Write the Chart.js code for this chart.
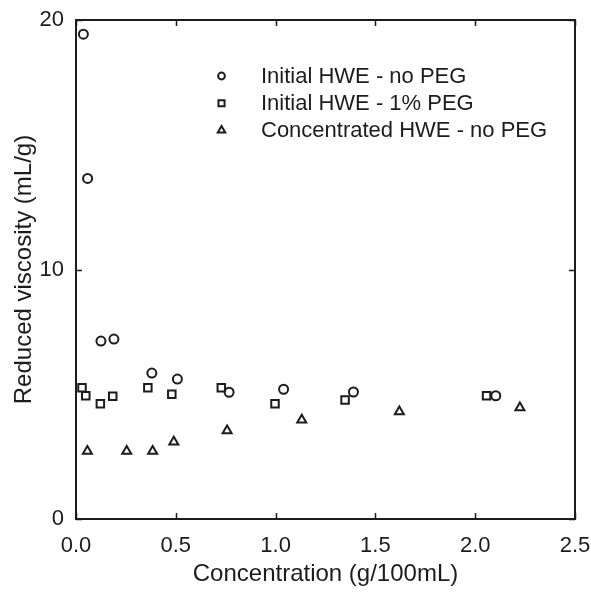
<!DOCTYPE html>
<html>
<head>
<meta charset="utf-8">
<script src="https://cdn.jsdelivr.net/npm/chart.js@4.4.1/dist/chart.umd.min.js"></script>
<style>
html,body{margin:0;padding:0;background:#fff;}
#wrap{width:591px;height:594px;position:relative;}
</style>
</head>
<body>
<div id="wrap"><canvas id="c" width="591" height="594"></canvas></div>
<script>
const seriesNames = ["Initial HWE - no PEG", "Initial HWE - 1% PEG", "Concentrated HWE - no PEG"];
const circleX = [0.037, 0.058, 0.125, 0.19, 0.38, 0.508, 0.767, 1.04, 1.39, 2.103];
const circleY = [19.43, 13.65, 7.13, 7.21, 5.85, 5.61, 5.08, 5.2, 5.09, 4.94];
const squareX = [0.03, 0.049, 0.122, 0.184, 0.36, 0.48, 0.728, 0.997, 1.348, 2.057];
const squareY = [5.26, 4.94, 4.62, 4.92, 5.26, 5.0, 5.26, 4.62, 4.77, 4.94];
const triX = [0.057, 0.254, 0.384, 0.49, 0.757, 1.131, 1.62, 2.224];
const triY = [2.72, 2.72, 2.72, 3.09, 3.54, 3.97, 4.3, 4.46];
const xTicks = [0, 0.5, 1.0, 1.5, 2.0, 2.5];
const yTicks = [0, 10, 20];

const INK = '#1c1c1c';
const FONT = "'Liberation Sans', Arial, sans-serif";

function pts(xs, ys){ return xs.map((x,i)=>({x:x, y:ys[i]})); }

const styles = [
  {pointStyle:'circle', radius:4.5, legendR:3.4},
  {pointStyle:'rect', radius:5.3, legendR:4.3},
  {pointStyle:'triangle', radius:5.2, legendR:4.3}
];
const dataSets = [pts(circleX,circleY), pts(squareX,squareY), pts(triX,triY)];

const frame = {
  id:'frame',
  afterDatasetsDraw(chart){
    const ctx = chart.ctx, a = chart.chartArea;
    const xs = chart.scales.x, ys = chart.scales.y;
    ctx.save();
    ctx.strokeStyle = INK;
    ctx.lineWidth = 2;
    ctx.strokeRect(a.left, a.top, a.right-a.left, a.bottom-a.top);
    const tl = 6;
    ctx.lineWidth = 1.5;
    ctx.beginPath();
    xTicks.forEach(v=>{
      const px = Math.round(xs.getPixelForValue(v))+0.5;
      ctx.moveTo(px, a.bottom); ctx.lineTo(px, a.bottom-tl);
      ctx.moveTo(px, a.top); ctx.lineTo(px, a.top+tl);
    });
    yTicks.forEach(v=>{
      const py = Math.round(ys.getPixelForValue(v))+0.5;
      ctx.moveTo(a.left, py); ctx.lineTo(a.left+tl, py);
      ctx.moveTo(a.right, py); ctx.lineTo(a.right-tl, py);
    });
    ctx.stroke();

    // legend
    const lx = 221.5, tx = 261, ly0 = 76, dy = 27.2;
    ctx.font = "22px " + FONT;
    ctx.textBaseline = 'middle';
    ctx.textAlign = 'left';
    seriesNames.forEach((n,i)=>{
      const y = ly0 + i*dy;
      ctx.lineWidth = 2;
      ctx.strokeStyle = INK;
      ctx.fillStyle = 'rgba(0,0,0,0)';
      Chart.helpers.drawPoint(ctx, {pointStyle: styles[i].pointStyle, radius: styles[i].legendR, borderWidth: 2}, lx, y);
      ctx.fillStyle = INK;
      ctx.fillText(n, tx, y + 1);
    });
    ctx.restore();
  }
};

new Chart(document.getElementById('c'), {
  type:'scatter',
  data:{
    datasets: seriesNames.map((n,i)=>({
      label:n,
      data:dataSets[i],
      pointStyle:styles[i].pointStyle,
      pointRadius:styles[i].radius,
      pointHoverRadius:styles[i].radius,
      pointBorderWidth:2,
      borderColor:INK,
      backgroundColor:'rgba(0,0,0,0)',
      pointBackgroundColor:'rgba(0,0,0,0)',
      showLine:false
    }))
  },
  options:{
    responsive:false,
    animation:false,
    devicePixelRatio:1,
    layout:{padding:{left:0,right:16,top:20,bottom:0}},
    plugins:{legend:{display:false}, tooltip:{enabled:false}},
    scales:{
      x:{
        type:'linear', min:0, max:2.5,
        afterBuildTicks(s){ s.ticks = xTicks.map(v=>({value:v})); },
        afterFit(s){ s.height = 75; s.paddingLeft = 0; s.paddingRight = 0; },
        grid:{display:false, drawTicks:false},
        border:{display:false},
        ticks:{color:INK, font:{family:FONT, size:22}, padding:14, maxRotation:0,
               callback:(v)=>Number(v).toFixed(1)},
        title:{display:true, text:'Concentration (g/100mL)', color:INK,
               font:{family:FONT, size:24}, padding:{top:0,bottom:5}}
      },
      y:{
        type:'linear', min:0, max:20,
        afterBuildTicks(s){ s.ticks = yTicks.map(v=>({value:v})); },
        afterFit(s){ s.width = 76; s.paddingTop = 0; s.paddingBottom = 0; },
        grid:{display:false, drawTicks:false},
        border:{display:false},
        ticks:{color:INK, font:{family:FONT, size:22}, padding:12,
               callback:(v)=>String(v)},
        title:{display:true, text:'Reduced viscosity (mL/g)', color:INK,
               font:{family:FONT, size:24}, padding:{top:10,bottom:0}}
      }
    }
  },
  plugins:[frame]
});
</script>
</body>
</html>
